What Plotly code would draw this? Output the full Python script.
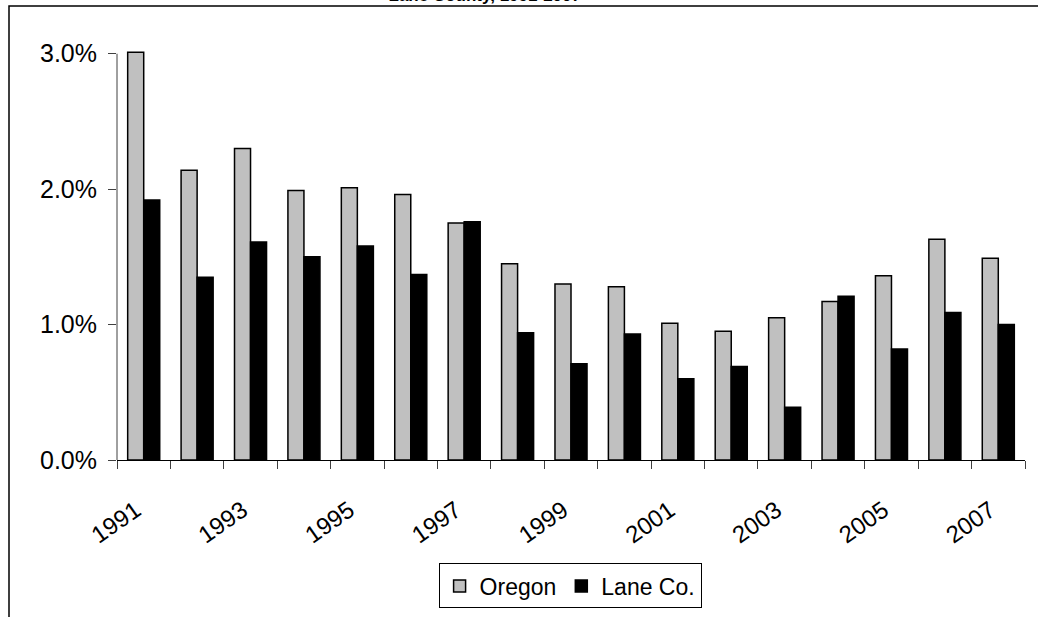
import plotly.graph_objects as go

years = list(range(1991, 2008))
oregon = [3.01, 2.14, 2.30, 1.99, 2.01, 1.96, 1.75, 1.45, 1.30, 1.28, 1.01, 0.95, 1.05, 1.17, 1.36, 1.63, 1.49]
lane = [1.92, 1.35, 1.61, 1.50, 1.58, 1.37, 1.76, 0.94, 0.71, 0.93, 0.60, 0.69, 0.39, 1.21, 0.82, 1.09, 1.00]
oregon_frac = [v / 100 for v in oregon]
lane_frac = [v / 100 for v in lane]
label_years = years[::2]
boundaries = [y - 0.5 for y in years] + [years[-1] + 0.5]
y_ticks = [0, 0.01, 0.02, 0.03]

FONT = "Liberation Sans, Arial, sans-serif"

fig = go.Figure()
fig.add_trace(go.Bar(x=years, y=oregon_frac, name="Oregon", cliponaxis=False,
                     marker=dict(color="#C0C0C0", line=dict(color="#000000", width=1.5))))
fig.add_trace(go.Bar(x=years, y=lane_frac, name="Lane Co.", cliponaxis=False,
                     marker=dict(color="#000000", line=dict(color="#000000", width=1.5))))

fig.update_layout(
    width=1038, height=617,
    margin=dict(l=117, r=13, t=51, b=157, autoexpand=False),
    paper_bgcolor="white", plot_bgcolor="white",
    barmode="group", bargap=0.40, bargroupgap=0,
    font=dict(family=FONT, color="black"),
    title=dict(text="<b>Lane County, 1991-2007</b>", font=dict(size=17, family=FONT, color="black"),
               x=0.405, xanchor="center", xref="paper",
               y=0.998, yanchor="bottom", yref="container"),
    xaxis=dict(range=[1990.5, 2007.5], tickmode="array", tickvals=[y - 0.15 for y in label_years],
               ticktext=[str(y) for y in label_years], tickangle=-35,
               ticks="", showgrid=False, zeroline=False, automargin=False,
               showline=True, linecolor="#000000", linewidth=1,
               tickfont=dict(size=24, family=FONT, color="black"),
               ticklabelstandoff=26,
               minor=dict(tickmode="array", tickvals=boundaries, ticks="outside",
                          ticklen=8, tickcolor="#404040", tickwidth=1, showgrid=False)),
    yaxis=dict(range=[0, 0.0302], tickmode="array", tickvals=y_ticks, tickformat=".1%",
               ticks="outside", ticklen=8, tickcolor="#404040", showgrid=False, zeroline=False,
               showline=False, automargin=False,
               tickfont=dict(size=25, family=FONT, color="black"), ticklabelstandoff=6),
    legend=dict(orientation="h", x=0.499, xanchor="center", y=-0.253, yanchor="top",
                bordercolor="#000000", borderwidth=1, bgcolor="white",
                font=dict(size=23, family=FONT, color="black"),
                itemwidth=30, tracegroupgap=0),
    showlegend=True,
)

# vertical value-axis line from 0% up to the 3.0% tick
fig.add_shape(type="line", xref="x domain", yref="y",
              x0=0, x1=0, y0=y_ticks[0], y1=y_ticks[-1],
              line=dict(color="#404040", width=1))

# outer chart frame (extends beyond the visible page on right and bottom)
fig.add_shape(type="rect", xref="paper", yref="paper",
              x0=(9 - 117) / 908, x1=(1060 - 117) / 908,
              y0=(460 - 640) / 409, y1=(460 - 6) / 409,
              line=dict(color="#000000", width=1.5), fillcolor="rgba(0,0,0,0)", layer="below")

fig.write_html("out.html", config={"displayModeBar": False},
               post_script="document.body.style.margin='0px';")
